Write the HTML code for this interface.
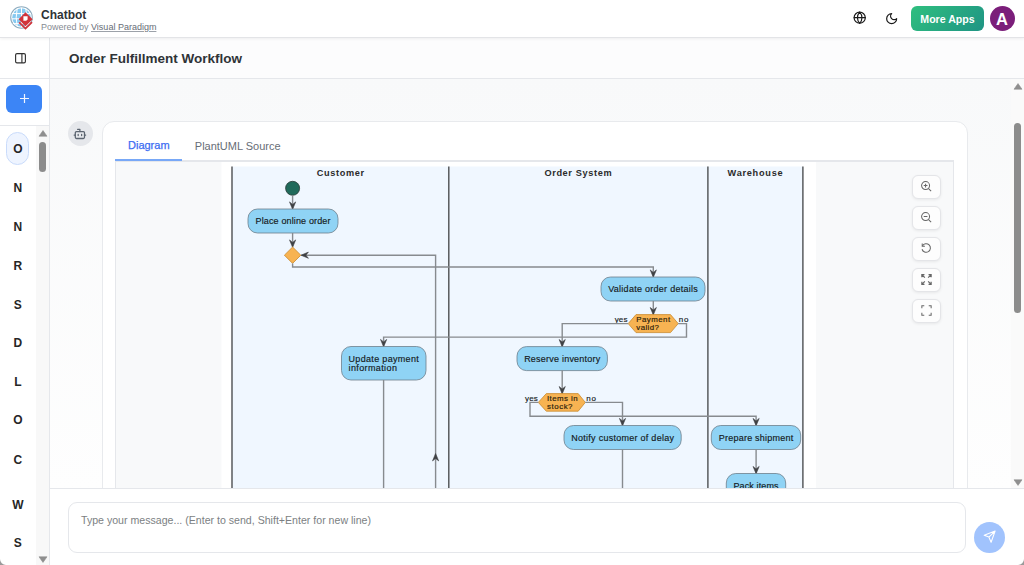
<!DOCTYPE html>
<html><head><meta charset="utf-8">
<style>
*{box-sizing:border-box;margin:0;padding:0}
html,body{width:1024px;height:565px;overflow:hidden;background:#f8f9fa;font-family:"Liberation Sans",sans-serif;position:relative}
.abs{position:absolute}
.lt{left:0.3px;width:35px;text-align:center;font-size:12px;font-weight:bold;color:#262626;line-height:16px}
.zb{left:911.5px;width:29.8px;height:24.6px;border-radius:6px;background:#fdfdfd;border:1px solid #e4e5e8;box-shadow:0 1px 3px rgba(0,0,0,0.07)}
#hdr{left:0;top:0;width:1024px;height:38px;background:#fff;border-bottom:1px solid #e3e4e7;box-shadow:0 1px 3px rgba(0,0,0,0.06);z-index:5}
#side{left:0;top:37px;width:50px;height:528px;background:#fff;border-right:1px solid #e5e7eb}
#titlebar{left:50px;top:37px;width:974px;height:42px;background:#fcfcfd;border-bottom:1px solid #e5e7eb}
#chat{left:50px;top:79px;width:974px;height:410px;background:linear-gradient(to bottom,#f8f9fa,#fefefe)}
#input{left:50px;top:488px;width:974px;height:77px;background:#fff;border-top:1px solid #e5e7eb}
</style></head>
<body>
<!-- header -->
<div id="hdr" class="abs">
  <svg class="abs" style="left:8px;top:4px" width="28" height="28" viewBox="8 4 28 28">
    <circle cx="21.5" cy="17.5" r="10.8" fill="#fff" stroke="#8eacbf" stroke-width="1.1"/>
    <circle cx="21.5" cy="17.5" r="9.3" fill="#86c9f0"/>
    <path d="M12 13.6H31M12 18.8H31M12.8 23.6H30M17.2 8.5Q15.2 17.5 17.2 26.5M21.5 8V27M25.8 8.5Q27.8 17.5 25.8 26.5" stroke="#fff" stroke-width="1" fill="none"/>
    <path d="M25.5 12.2L32.6 19.2L25.5 26.2L18.6 19.2Z" fill="#d2333a"/>
    <path d="M23.4 16.3H27.6V19.6L26.2 20.8H23.4Z" fill="#fff"/>
    <path d="M19.2 22.4L25.5 28.6L32 22.2" stroke="#d2333a" stroke-width="1.8" fill="none"/>
  </svg>
  <div class="abs" style="left:41px;top:7.6px;font-size:12px;font-weight:bold;color:#2f3337;line-height:14px">Chatbot</div>
  <div class="abs" style="left:41px;top:22px;font-size:9px;color:#868b93;line-height:11px;white-space:nowrap">Powered by <span style="text-decoration:underline;text-decoration-color:#9ca1a9;color:#676d76">Visual Paradigm</span></div>
  <!-- globe -->
  <svg class="abs" style="left:853.3px;top:11.4px" width="13.4" height="13.4" viewBox="0 0 24 24" fill="none" stroke="#1a1a1a" stroke-width="2.1" stroke-linecap="round" stroke-linejoin="round"><circle cx="12" cy="12" r="10"/><path d="M12 2a14.5 14.5 0 0 0 0 20 14.5 14.5 0 0 0 0-20"/><path d="M2 12h20"/></svg>
  <!-- moon -->
  <svg class="abs" style="left:884.5px;top:11.8px" width="13.3" height="13.3" viewBox="0 0 24 24" fill="none" stroke="#1a1a1a" stroke-width="2.2" stroke-linecap="round" stroke-linejoin="round"><path d="M12 3a6 6 0 0 0 9 9 9 9 0 1 1-9-9Z"/></svg>
  <div class="abs" style="left:911px;top:6px;width:73px;height:25px;border-radius:6px;background:linear-gradient(135deg,#2fbf7f,#1f9484);color:#fff;font-weight:bold;font-size:10.6px;line-height:26.5px;text-align:center">More Apps</div>
  <div class="abs" style="left:989.5px;top:6px;width:25px;height:25px;border-radius:50%;background:#7b1e7a;color:#fff;font-weight:bold;font-size:16.5px;line-height:26px;text-align:center">A</div>
</div>

<!-- sidebar -->
<div id="side" class="abs">
  <svg class="abs" style="left:14.5px;top:15.7px" width="11" height="11" viewBox="0 0 11 11" fill="none" stroke="#333" stroke-width="1.15">
    <rect x="0.6" y="0.6" width="9.8" height="9.3" rx="1.4"/><path d="M6.9 0.6V9.9"/>
  </svg>
  <div class="abs" style="left:0;top:41px;width:49px;height:1px;background:#e5e7eb"></div>
  <div class="abs" style="left:6px;top:48px;width:36px;height:28px;border-radius:6px;background:#3c85f6"></div><svg class="abs" style="left:19.5px;top:57px" width="9" height="9" viewBox="0 0 9 9" stroke="#f2f6ff" stroke-width="1.2"><path d="M4.5 0V9M0 4.5H9"/></svg>
  <div class="abs" style="left:0;top:88px;width:49px;height:1px;background:#e5e7eb"></div>
</div>

<!-- title bar -->
<div id="titlebar" class="abs">
  <div class="abs" style="left:19px;top:14.3px;font-size:13.5px;font-weight:bold;color:#2f3337;line-height:16px;white-space:nowrap">Order Fulfillment Workflow</div>
</div>

<!-- chat area -->
<div id="chat" class="abs"></div>
<!-- bot avatar -->
<div class="abs" style="left:68px;top:121px;width:24.6px;height:25px;border-radius:50%;background:#e5e7eb"></div>
<svg class="abs" style="left:73.4px;top:126.9px" width="13.8" height="13.8" viewBox="0 0 24 24" fill="none" stroke="#5b6470" stroke-width="2.2" stroke-linecap="round" stroke-linejoin="round"><path d="M12 8V4H8"/><rect width="16" height="12" x="4" y="8" rx="2"/><path d="M2 14h2M20 14h2M15 13v2M9 13v2"/></svg>
<!-- card -->
<div class="abs" style="left:102px;top:121px;width:866px;height:420px;background:#fff;border:1px solid #e8eaed;border-radius:12px"></div>
<div class="abs" style="left:128px;top:139.1px;font-size:11px;line-height:12px;color:#3b6cf2;-webkit-text-stroke:0.25px #3b6cf2;white-space:nowrap">Diagram</div>
<div class="abs" style="left:194.8px;top:139.7px;font-size:11px;line-height:12px;color:#676d76;white-space:nowrap">PlantUML Source</div>
<div class="abs" style="left:115px;top:160px;width:839px;height:1px;background:#e5e7eb"></div>
<div class="abs" style="left:115px;top:159px;width:67px;height:2px;background:#78a8f7"></div>
<!-- diagram container -->
<div class="abs" style="left:115px;top:161px;width:839px;height:340px;background:#f8f9fa;border:1px solid #e5e7eb;overflow:hidden">
<svg class="abs" style="left:-1px;top:-1px" width="839" height="340" viewBox="115 161 839 340" font-family="Liberation Sans, sans-serif">
<rect x="221.5" y="162" width="594.5" height="330" fill="#ffffff"/>
<rect x="232" y="166.5" width="571" height="330" fill="#f0f7ff"/>
<line x1="232" y1="166.5" x2="232" y2="495" stroke="#4d4f52" stroke-width="1.4"/>
<line x1="448.8" y1="166.5" x2="448.8" y2="495" stroke="#4d4f52" stroke-width="1.4"/>
<line x1="707.9" y1="166.5" x2="707.9" y2="495" stroke="#4d4f52" stroke-width="1.4"/>
<line x1="802.9" y1="166.5" x2="802.9" y2="495" stroke="#4d4f52" stroke-width="1.4"/>
<text x="340.4" y="176.1" font-size="9.2" font-weight="bold" text-anchor="middle" fill="#2b2b2b" textLength="47.3" lengthAdjust="spacing">Customer</text>
<text x="578" y="176.1" font-size="9.2" font-weight="bold" text-anchor="middle" fill="#2b2b2b" textLength="67.2" lengthAdjust="spacing">Order System</text>
<text x="755.1" y="176.1" font-size="9.2" font-weight="bold" text-anchor="middle" fill="#2b2b2b" textLength="55" lengthAdjust="spacing">Warehouse</text>
<circle cx="292.6" cy="188.3" r="7" fill="#206a5b" stroke="#2a3a36" stroke-width="0.8"/>
<path d="M292.6 195.5 L292.6 208.5" fill="none" stroke="#878b8f" stroke-width="1.4"/>
<path d="M289.5 201.9 L292.6 209.3 L295.70000000000005 201.9 L292.6 204.4 Z" fill="#3f4144" stroke="#3f4144" stroke-width="0.6" stroke-linejoin="round"/>
<rect x="248" y="209" width="90" height="24" rx="9.5" ry="9.5" fill="#8fd3f5" stroke="#6d7f8c" stroke-width="0.8"/>
<text x="293.0" y="224.2" font-size="9" font-weight="normal" text-anchor="middle" fill="#151a22" stroke="#151a22" stroke-width="0.16" textLength="75" lengthAdjust="spacing">Place online order</text>
<path d="M292.6 233 L292.6 246.5" fill="none" stroke="#878b8f" stroke-width="1.4"/>
<path d="M289.5 239.9 L292.6 247.3 L295.70000000000005 239.9 L292.6 242.4 Z" fill="#3f4144" stroke="#3f4144" stroke-width="0.6" stroke-linejoin="round"/>
<path d="M292.6 247 L300.8 255.2 L292.6 263.4 L284.4 255.2 Z" fill="#f7b352" stroke="#c98a2e" stroke-width="0.8"/>
<path d="M435.6 495 L435.6 255.2 L301.5 255.2" fill="none" stroke="#878b8f" stroke-width="1.4"/>
<path d="M308.4 252.1 L301 255.2 L308.4 258.3 L305.9 255.2 Z" fill="#3f4144" stroke="#3f4144" stroke-width="0.6" stroke-linejoin="round"/>
<path d="M432.5 460.9 L435.6 453.5 L438.70000000000005 460.9 L435.6 458.4 Z" fill="#3f4144" stroke="#3f4144" stroke-width="0.6" stroke-linejoin="round"/>
<path d="M292.6 263.4 L292.6 267 L653.3 267 L653.3 276.5" fill="none" stroke="#878b8f" stroke-width="1.4"/>
<path d="M650.1999999999999 269.90000000000003 L653.3 277.3 L656.4 269.90000000000003 L653.3 272.40000000000003 Z" fill="#3f4144" stroke="#3f4144" stroke-width="0.6" stroke-linejoin="round"/>
<rect x="601" y="277" width="104" height="24" rx="9.5" ry="9.5" fill="#8fd3f5" stroke="#6d7f8c" stroke-width="0.8"/>
<text x="653.0" y="292.2" font-size="9" font-weight="normal" text-anchor="middle" fill="#151a22" stroke="#151a22" stroke-width="0.16" textLength="89.6" lengthAdjust="spacing">Validate order details</text>
<path d="M653.3 301 L653.3 314" fill="none" stroke="#878b8f" stroke-width="1.4"/>
<path d="M650.1999999999999 307.50000000000006 L653.3 314.90000000000003 L656.4 307.50000000000006 L653.3 310.00000000000006 Z" fill="#3f4144" stroke="#3f4144" stroke-width="0.6" stroke-linejoin="round"/>
<path d="M628.2 323.6 L636 314.6 L670.5 314.6 L678.2 323.6 L670.5 332.6 L636 332.6 Z" fill="#f7b352" stroke="#c98a2e" stroke-width="0.8"/>
<text x="636.3" y="321.8" font-size="7.9" fill="#2a1d0a" stroke="#2a1d0a" stroke-width="0.17" textLength="33.8" lengthAdjust="spacing">Payment</text>
<text x="636.3" y="330.2" font-size="7.9" fill="#2a1d0a" stroke="#2a1d0a" stroke-width="0.17" textLength="22.6" lengthAdjust="spacing">valid?</text>
<text x="614.7" y="322.0" font-size="8.0" font-weight="normal" text-anchor="start" fill="#151a22" stroke="#151a22" stroke-width="0.16" textLength="12.8" lengthAdjust="spacing">yes</text>
<text x="678.8" y="322.0" font-size="8.0" font-weight="normal" text-anchor="start" fill="#151a22" stroke="#151a22" stroke-width="0.16" textLength="9.6" lengthAdjust="spacing">no</text>
<path d="M628.2 323.6 L562.2 323.6 L562.2 346" fill="none" stroke="#878b8f" stroke-width="1.4"/>
<path d="M559.1 339.50000000000006 L562.2 346.90000000000003 L565.3000000000001 339.50000000000006 L562.2 342.00000000000006 Z" fill="#3f4144" stroke="#3f4144" stroke-width="0.6" stroke-linejoin="round"/>
<path d="M678.2 323.6 L686.5 323.6 L686.5 337.1 L383.6 337.1 L383.6 346" fill="none" stroke="#878b8f" stroke-width="1.4"/>
<path d="M380.5 339.40000000000003 L383.6 346.8 L386.70000000000005 339.40000000000003 L383.6 341.90000000000003 Z" fill="#3f4144" stroke="#3f4144" stroke-width="0.6" stroke-linejoin="round"/>
<rect x="341.5" y="346.5" width="84.5" height="33.5" rx="9.5" ry="9.5" fill="#8fd3f5" stroke="#6d7f8c" stroke-width="0.8"/>
<text x="348.5" y="361.7" font-size="9" fill="#151a22" stroke="#151a22" stroke-width="0.16" textLength="70.3" lengthAdjust="spacing">Update payment</text>
<text x="348.5" y="370.8" font-size="9" fill="#151a22" stroke="#151a22" stroke-width="0.16" textLength="48.4" lengthAdjust="spacing">information</text>
<path d="M383.6 380 L383.6 495" fill="none" stroke="#878b8f" stroke-width="1.4"/>
<rect x="517" y="346.6" width="90.39999999999998" height="24.0" rx="9.5" ry="9.5" fill="#8fd3f5" stroke="#6d7f8c" stroke-width="0.8"/>
<text x="562.2" y="361.8" font-size="9" font-weight="normal" text-anchor="middle" fill="#151a22" stroke="#151a22" stroke-width="0.16" textLength="76.1" lengthAdjust="spacing">Reserve inventory</text>
<path d="M562.2 370.6 L562.2 393" fill="none" stroke="#878b8f" stroke-width="1.4"/>
<path d="M559.1 386.50000000000006 L562.2 393.90000000000003 L565.3000000000001 386.50000000000006 L562.2 389.00000000000006 Z" fill="#3f4144" stroke="#3f4144" stroke-width="0.6" stroke-linejoin="round"/>
<path d="M538.3 402.4 L546.3 393.6 L578.2 393.6 L585.3 402.4 L578.2 411.2 L546.3 411.2 Z" fill="#f7b352" stroke="#c98a2e" stroke-width="0.8"/>
<text x="547" y="400.8" font-size="7.9" fill="#2a1d0a" stroke="#2a1d0a" stroke-width="0.17" textLength="30.6" lengthAdjust="spacing">Items in</text>
<text x="547" y="409.2" font-size="7.9" fill="#2a1d0a" stroke="#2a1d0a" stroke-width="0.17" textLength="25.5" lengthAdjust="spacing">stock?</text>
<text x="525" y="401.0" font-size="8.0" font-weight="normal" text-anchor="start" fill="#151a22" stroke="#151a22" stroke-width="0.16" textLength="12.8" lengthAdjust="spacing">yes</text>
<text x="586.3" y="401.0" font-size="8.0" font-weight="normal" text-anchor="start" fill="#151a22" stroke="#151a22" stroke-width="0.16" textLength="9.6" lengthAdjust="spacing">no</text>
<path d="M538.3 402.4 L530 402.4 L530 416.2 L756.1 416.2 L756.1 425" fill="none" stroke="#878b8f" stroke-width="1.4"/>
<path d="M753.0 418.40000000000003 L756.1 425.8 L759.2 418.40000000000003 L756.1 420.90000000000003 Z" fill="#3f4144" stroke="#3f4144" stroke-width="0.6" stroke-linejoin="round"/>
<path d="M585.3 402.4 L622.5 402.4 L622.5 425" fill="none" stroke="#878b8f" stroke-width="1.4"/>
<path d="M619.4 418.40000000000003 L622.5 425.8 L625.6 418.40000000000003 L622.5 420.90000000000003 Z" fill="#3f4144" stroke="#3f4144" stroke-width="0.6" stroke-linejoin="round"/>
<rect x="564" y="425.5" width="117.20000000000005" height="24.0" rx="9.5" ry="9.5" fill="#8fd3f5" stroke="#6d7f8c" stroke-width="0.8"/>
<text x="622.6" y="440.7" font-size="9" font-weight="normal" text-anchor="middle" fill="#151a22" stroke="#151a22" stroke-width="0.16" textLength="102.7" lengthAdjust="spacing">Notify customer of delay</text>
<path d="M622.5 449.5 L622.5 495" fill="none" stroke="#878b8f" stroke-width="1.4"/>
<rect x="711.3" y="425.5" width="89.40000000000009" height="24.0" rx="9.5" ry="9.5" fill="#8fd3f5" stroke="#6d7f8c" stroke-width="0.8"/>
<text x="756.0" y="440.7" font-size="9" font-weight="normal" text-anchor="middle" fill="#151a22" stroke="#151a22" stroke-width="0.16" textLength="74.4" lengthAdjust="spacing">Prepare shipment</text>
<path d="M756.1 449.5 L756.1 473" fill="none" stroke="#878b8f" stroke-width="1.4"/>
<path d="M753.0 466.40000000000003 L756.1 473.8 L759.2 466.40000000000003 L756.1 468.90000000000003 Z" fill="#3f4144" stroke="#3f4144" stroke-width="0.6" stroke-linejoin="round"/>
<rect x="726.3" y="473.5" width="59.40000000000009" height="24.0" rx="9.5" ry="9.5" fill="#8fd3f5" stroke="#6d7f8c" stroke-width="0.8"/>
<text x="756.0" y="488.7" font-size="9" font-weight="normal" text-anchor="middle" fill="#151a22" stroke="#151a22" stroke-width="0.16" textLength="45" lengthAdjust="spacing">Pack items</text>
</svg>
</div>
<div class="abs zb" style="top:174.5px"></div><svg class="abs" style="left:919.6px;top:180.1px" width="13" height="13" viewBox="0 0 14 14" fill="none" stroke="#666" stroke-width="1.1"><circle cx="6" cy="6" r="4.3"/><path d="M9.2 9.2L12 12M6 4v4M4 6h4"/></svg>
<div class="abs zb" style="top:205.5px"></div><svg class="abs" style="left:919.6px;top:211.1px" width="13" height="13" viewBox="0 0 14 14" fill="none" stroke="#666" stroke-width="1.1"><circle cx="6" cy="6" r="4.3"/><path d="M9.2 9.2L12 12M4 6h4"/></svg>
<div class="abs zb" style="top:236.5px"></div><svg class="abs" style="left:919.6px;top:242.1px" width="13" height="13" viewBox="0 0 14 14" fill="none" stroke="#666" stroke-width="1.1"><path d="M2.6 4.2A4.6 4.6 0 1 1 2.2 7.8"/><path d="M2.4 1.6V4.5H5.3"/></svg>
<div class="abs zb" style="top:267.5px"></div><svg class="abs" style="left:919.6px;top:273.1px" width="13" height="13" viewBox="0 0 14 14" fill="none" stroke="#666" stroke-width="1.1"><path d="M5.2 5L2 1.8M2 4.6V1.8H4.8M8.8 5L12 1.8M9.2 1.8H12V4.6M5.2 9L2 12.2M2 9.4V12.2H4.8M8.8 9L12 12.2M12 9.4V12.2H9.2" stroke-width="1.3"/></svg>
<div class="abs zb" style="top:298.5px"></div><svg class="abs" style="left:919.6px;top:304.1px" width="13" height="13" viewBox="0 0 14 14" fill="none" stroke="#666" stroke-width="1.1"><path d="M2 4.6V2H4.6M9.4 2H12V4.6M12 9.4V12H9.4M4.6 12H2V9.4"/></svg>

<!-- sidebar list -->
<div class="abs" style="left:36px;top:126px;width:13px;height:439px;background:#f8f8f8"></div>
<div class="abs" style="left:6px;top:132px;width:23px;height:33px;border-radius:12px;background:#eef4ff;border:1px solid #c9dbfb"></div>
<div class="abs lt" style="top:140.7px">O</div>
<div class="abs lt" style="top:179.7px">N</div>
<div class="abs lt" style="top:219.0px">N</div>
<div class="abs lt" style="top:257.5px">R</div>
<div class="abs lt" style="top:296.6px">S</div>
<div class="abs lt" style="top:335.4px">D</div>
<div class="abs lt" style="top:373.9px">L</div>
<div class="abs lt" style="top:412.2px">O</div>
<div class="abs lt" style="top:451.9px">C</div>
<div class="abs lt" style="top:497.1px">W</div>
<div class="abs lt" style="top:534.9px">S</div>
<svg class="abs" style="left:37.5px;top:130px" width="10" height="7" viewBox="0 0 10 7"><path d="M1 6.2L5 0.6L9 6.2Z" fill="#8f8f8f" stroke="#8f8f8f" stroke-width="0.6" stroke-linejoin="round"/></svg>
<div class="abs" style="left:39px;top:141.6px;width:7px;height:30.5px;border-radius:3.5px;background:#8c8c8c"></div>
<svg class="abs" style="left:37.5px;top:556px" width="10" height="7" viewBox="0 0 10 7"><path d="M1 0.8L5 6.4L9 0.8Z" fill="#8f8f8f" stroke="#8f8f8f" stroke-width="0.6" stroke-linejoin="round"/></svg>
<!-- main scrollbar -->
<div class="abs" style="left:1011px;top:79px;width:13px;height:409px;background:#fafafa"></div><svg class="abs" style="left:1012.5px;top:83px" width="10" height="7" viewBox="0 0 10 7"><path d="M1 6.2L5 0.6L9 6.2Z" fill="#8f8f8f" stroke="#8f8f8f" stroke-width="0.6" stroke-linejoin="round"/></svg>
<div class="abs" style="left:1013.5px;top:122.5px;width:7.5px;height:190.5px;border-radius:4px;background:#8c8c8c"></div>
<svg class="abs" style="left:1012.5px;top:479px" width="10" height="7" viewBox="0 0 10 7"><path d="M1 0.8L5 6.4L9 0.8Z" fill="#8f8f8f" stroke="#8f8f8f" stroke-width="0.6" stroke-linejoin="round"/></svg>
<!-- input -->
<div id="input" class="abs">
  <div class="abs" style="left:18px;top:12.5px;width:897.5px;height:51.5px;border:1px solid #e5e7eb;border-radius:9px;background:#fff"></div>
  <div class="abs" style="left:31px;top:25px;font-size:10.6px;color:#7c7f83;line-height:12px;white-space:nowrap">Type your message... (Enter to send, Shift+Enter for new line)</div>
  <div class="abs" style="left:924px;top:33px;width:31px;height:31px;border-radius:50%;background:#a1c3fd"></div><svg class="abs" style="left:924px;top:33px" width="31" height="31" viewBox="974 522 31 31" fill="none" stroke="#fff" stroke-width="1.1" stroke-linejoin="round"><path d="M995.1 531.1L984.2 535.2L988.9 537.1L991.1 542.3Z M995.1 531.1L988.9 537.1"/></svg>
</div>
<svg class="abs" style="left:0;top:559px" width="6" height="6" viewBox="0 0 6 6"><path d="M0 0A6 6 0 0 0 6 6H0Z" fill="#9a9a9a"/></svg>
<svg class="abs" style="left:1018px;top:559px" width="6" height="6" viewBox="0 0 6 6"><path d="M6 0A6 6 0 0 1 0 6H6Z" fill="#9a9a9a"/></svg>
</body></html>
